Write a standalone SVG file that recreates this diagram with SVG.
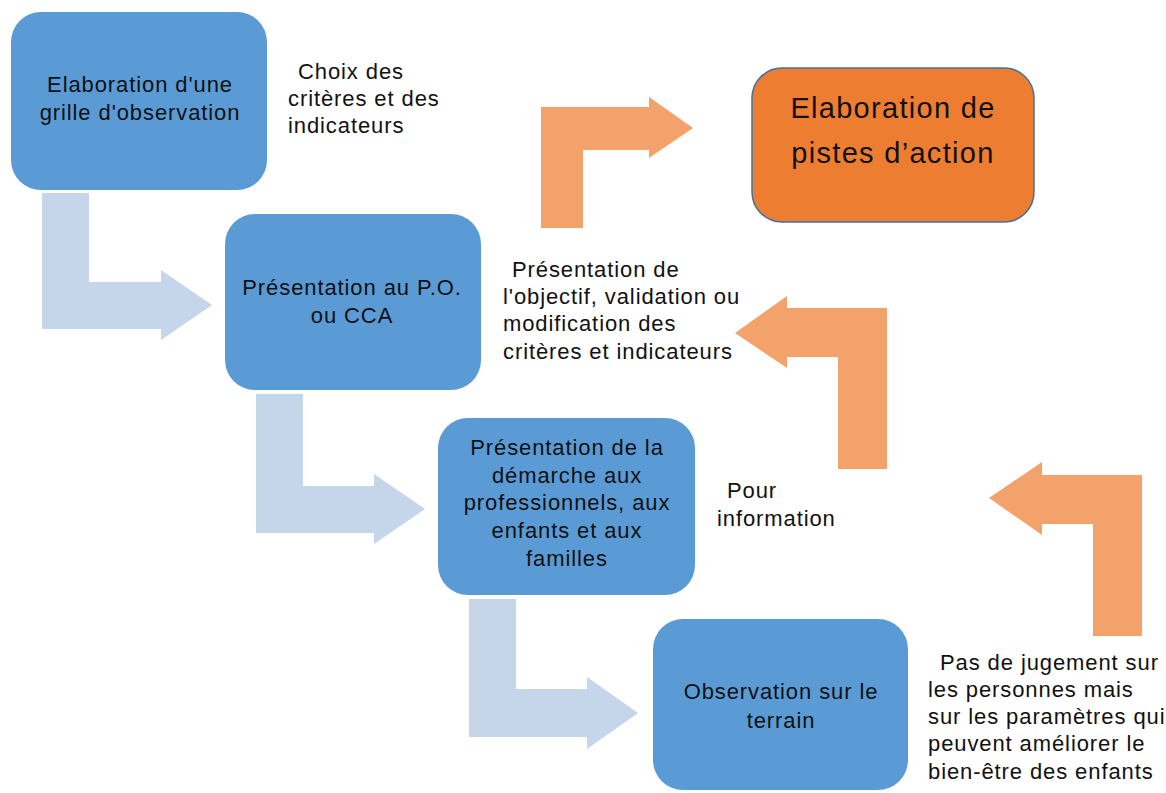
<svg xmlns="http://www.w3.org/2000/svg" width="1166" height="793" viewBox="0 0 1166 793">
<style>
.box{fill:#5B9BD5;}
.obox{fill:#ED7D31;stroke:#41719C;stroke-width:1.5;}
.barrow{fill:#C5D5EA;}
.oarrow{fill:#F2A26A;}
text{font-family:"Liberation Sans",Arial,sans-serif;fill:#111;}
.bt{font-size:22px;text-anchor:middle;letter-spacing:0.9px;}
.an{font-size:22px;letter-spacing:0.9px;}
.big{font-size:29px;text-anchor:middle;letter-spacing:1.3px;}
</style>
<rect width="1166" height="793" fill="#fff"/>
<g id="connectors">
<path class="barrow" d="M42,193 H89 V282 H161 V270 L212,305 L161,340 V329 H42 Z"/>
<path class="barrow" d="M256,394 H303 V486 H374 V474 L425,509 L374,544 V533 H256 Z"/>
<path class="barrow" d="M469,599 H516 V689 H587 V677 L638,713 L587,749 V737 H469 Z"/>
<path class="oarrow" d="M541,228 V107 H649 V97 L693,128 L649,158 V150 H583 V228 Z"/>
<path class="oarrow" d="M887,469 V308 H787 V296 L735,333 L787,368 V357 H838 V469 Z"/>
<path class="oarrow" d="M1142,636 V475 H1042 V462 L989,498 L1042,535 V524 H1093 V636 Z"/>
</g>
<g id="node1">
<rect class="box" x="11" y="12" width="256" height="178" rx="30"/>
<text class="bt" x="140" y="92">Elaboration d'une</text>
<text class="bt" x="140" y="120">grille d'observation</text>
</g>
<g id="node2">
<rect class="box" x="225" y="214" width="256" height="176" rx="30"/>
<text class="bt" x="352" y="295">Présentation au P.O.</text>
<text class="bt" x="352" y="323">ou CCA</text>
</g>
<g id="node3">
<rect class="box" x="438" y="418" width="257" height="177" rx="30"/>
<text class="bt" x="567" y="455">Présentation de la</text>
<text class="bt" x="567" y="483">démarche aux</text>
<text class="bt" x="567" y="510">professionnels, aux</text>
<text class="bt" x="567" y="538">enfants et aux</text>
<text class="bt" x="567" y="566">familles</text>
</g>
<g id="node4">
<rect class="box" x="653" y="619" width="255" height="171" rx="30"/>
<text class="bt" x="781" y="699">Observation sur le</text>
<text class="bt" x="781" y="728">terrain</text>
</g>
<g id="node5">
<rect class="obox" x="752" y="68" width="282" height="154" rx="30"/>
<text class="big" x="893" y="118">Elaboration de</text>
<text class="big" x="893" y="163">pistes d’action</text>
</g>
<g id="labels">
<text class="an" x="298" y="79">Choix des</text>
<text class="an" x="288" y="106">critères et des</text>
<text class="an" x="288" y="133">indicateurs</text>
<text class="an" x="512" y="277">Présentation de</text>
<text class="an" x="503" y="304">l'objectif, validation ou</text>
<text class="an" x="503" y="331">modification des</text>
<text class="an" x="503" y="359">critères et indicateurs</text>
<text class="an" x="727" y="498">Pour</text>
<text class="an" x="717" y="526">information</text>
<text class="an" x="940" y="670">Pas de jugement sur</text>
<text class="an" x="928" y="697">les personnes mais</text>
<text class="an" x="928" y="724">sur les paramètres qui</text>
<text class="an" x="928" y="751">peuvent améliorer le</text>
<text class="an" x="928" y="779">bien-être des enfants</text>
</g>
</svg>
